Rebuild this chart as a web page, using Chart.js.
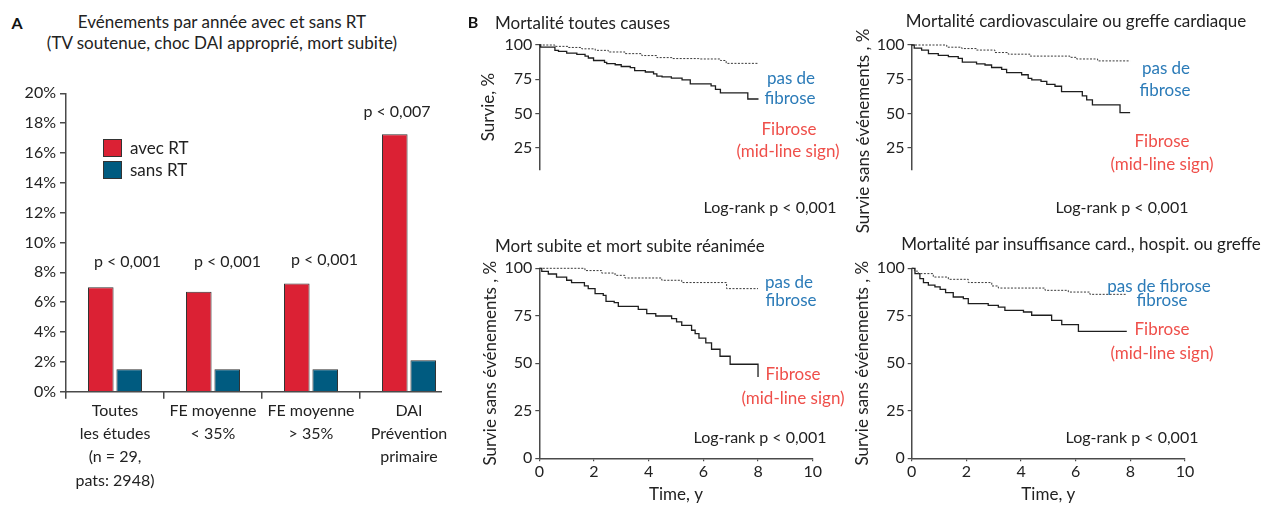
<!DOCTYPE html>
<html>
<head>
<meta charset="utf-8">
<script src="https://cdn.jsdelivr.net/npm/chart.js@4.4.1/dist/chart.umd.min.js"></script>
<style>
    body { margin: 0; width: 1271px; height: 506px; background: #fff; position: relative; overflow: hidden; font-family: Lato, sans-serif; color: #222; }
    canvas { position: absolute; }
    .t { position: absolute; white-space: nowrap; line-height: 1; transform: translate(-50%, -50%); }
    .sq { position: absolute; width: 17px; height: 16px; border: 1px solid #333; }
</style>
</head>
<body>
<canvas id="barChart" width="470" height="446" style="left:0;top:60px"></canvas>
<canvas id="kmAll" width="390" height="200" style="left:470px;top:30px"></canvas>
<canvas id="kmCardio" width="421" height="200" style="left:850px;top:30px"></canvas>
<canvas id="kmSudden" width="380" height="251" style="left:470px;top:255px"></canvas>
<canvas id="kmHF" width="421" height="251" style="left:850px;top:255px"></canvas>
<div class="sq" style="left:103px;top:139px;background:#DB2134"></div>
<div class="sq" style="left:103px;top:161px;background:#005B80"></div>

<script>
    // Panel A: events per year with / without RT
    const categories = [
        ['Toutes', 'les études', '(n = 29,', 'pats: 2948)'],
        ['FE moyenne', '< 35%'],
        ['FE moyenne', '> 35%'],
        ['DAI', 'Prévention', 'primaire']
    ];
    const avecRT = [7.0, 6.7, 7.25, 17.25];
    const sansRT = [1.5, 1.5, 1.5, 2.1];
    const pValues = ['p < 0,001', 'p < 0,001', 'p < 0,001', 'p < 0,007'];

    // Panel B: Kaplan-Meier curves (time in years, survival in %)
    const timeTicks = [0, 2, 4, 6, 8, 10];

    const allFibT = [0, 0.05, 0.57, 0.7, 1.0, 1.37, 1.67, 1.79, 1.98, 2.38, 2.46, 2.77, 2.99, 3.32, 3.48, 3.87, 4.17, 4.29, 4.48, 4.82, 5.21, 5.51, 6.27, 6.43, 6.61, 7.61, 8.0];
    const allFibS = [100, 98.5, 96.1, 95.4, 94.0, 93.1, 91.9, 90.5, 88.7, 87.3, 86.4, 85.6, 84.3, 83.5, 81.3, 80.3, 79.0, 77.3, 76.8, 75.9, 74.6, 71.7, 70.2, 67.6, 65.0, 60.6, 60.6];
    const allNoFibT = [0, 0.57, 1.06, 1.55, 2.04, 2.52, 3.13, 3.74, 4.29, 4.84, 5.82, 6.61, 6.82, 8.0];
    const allNoFibS = [100, 99.0, 98.2, 97.2, 96.1, 94.9, 93.7, 92.3, 90.8, 90.1, 89.8, 88.7, 86.6, 86.6];

    const cardioFibT = [0, 0.1, 0.37, 0.62, 0.98, 1.35, 1.71, 1.86, 2.38, 2.69, 2.93, 3.30, 3.48, 4.03, 4.27, 4.40, 4.74, 4.95, 5.25, 5.49, 6.25, 6.41, 6.62, 7.63, 8.0];
    const cardioFibS = [100, 97.7, 96.3, 93.7, 92.4, 91.5, 90.3, 87.5, 86.3, 85.4, 83.6, 82.2, 79.8, 78.3, 75.7, 74.5, 73.4, 71.3, 69.9, 66.0, 62.9, 59.9, 56.3, 50.7, 50.7];
    const cardioNoFibT = [0, 1.29, 1.84, 2.38, 3.05, 3.54, 4.34, 5.8, 6.04, 6.81, 8.0];
    const cardioNoFibS = [100, 98.4, 97.4, 96.3, 94.5, 93.3, 91.9, 91.0, 89.8, 88.4, 88.4];

    const suddenFibT = [0, 0.09, 0.33, 0.63, 1.0, 1.18, 1.65, 1.79, 2.04, 2.34, 2.44, 2.74, 2.89, 3.62, 3.93, 4.26, 4.84, 5.02, 5.21, 5.57, 5.70, 5.84, 6.09, 6.30, 6.61, 6.98, 8.0];
    const suddenFibS = [100, 98.4, 97.0, 95.4, 93.7, 92.5, 90.7, 89.3, 86.7, 85.8, 82.6, 81.9, 80.0, 78.4, 76.1, 74.9, 73.5, 71.8, 70.0, 67.4, 65.6, 63.3, 60.7, 57.4, 53.7, 49.5, 42.8];
    const suddenNoFibT = [0, 1.67, 2.28, 2.77, 3.13, 4.48, 5.21, 6.85, 8.0];
    const suddenNoFibS = [100, 98.8, 97.5, 96.3, 94.9, 93.7, 92.5, 89.3, 89.3];

    const hfFibT = [0, 0.12, 0.30, 0.43, 0.61, 0.85, 1.04, 1.24, 1.52, 1.89, 2.07, 2.80, 3.17, 3.41, 4.09, 4.39, 5.12, 5.49, 6.10, 7.87];
    const hfFibS = [100, 97.2, 94.6, 92.5, 91.1, 90.2, 88.9, 87.2, 84.9, 84.0, 81.4, 80.5, 79.6, 77.9, 77.0, 75.3, 72.6, 70.4, 66.8, 66.8];
    const hfNoFibT = [0, 0.1, 0.24, 0.79, 1.34, 2.07, 2.93, 3.17, 4.88, 5.73, 6.52, 7.87];
    const hfNoFibS = [100, 98.5, 97.2, 95.4, 94.2, 92.5, 90.7, 89.6, 88.4, 87.5, 86.3, 86.3];

    const AXIS = '#4a4a4a';
    const BLUE = '#2B7BB8';
    const RED = '#EF4F4A';

    // x axis line of the bar chart stops just after the last bar
    const axisLinePlugin = {
        id: 'axisLine',
        afterDatasetsDraw(chart) {
            const {ctx, chartArea} = chart;
            const meta = chart.getDatasetMeta(chart.data.datasets.length - 1);
            const last = meta.data[meta.data.length - 1];
            ctx.save();
            ctx.strokeStyle = AXIS;
            ctx.lineWidth = 1.5;
            ctx.beginPath();
            ctx.moveTo(chartArea.left, chartArea.bottom);
            ctx.lineTo(last.x + last.width / 2 + 6, chartArea.bottom);
            ctx.stroke();
            ctx.restore();
        }
    };

    new Chart(document.getElementById('barChart'), {
        type: 'bar',
        data: {
            labels: categories,
            datasets: [{
                label: 'avec RT',
                data: avecRT,
                backgroundColor: '#DB2134',
                borderColor: '#333',
                borderWidth: 1,
                categoryPercentage: 0.58,
                barPercentage: 0.9
            }, {
                label: 'sans RT',
                data: sansRT,
                backgroundColor: '#005B80',
                borderColor: '#333',
                borderWidth: 1,
                categoryPercentage: 0.58,
                barPercentage: 0.9
            }]
        },
        options: {
            responsive: false,
            animation: false,
            events: [],
            layout: { padding: { left: 0, top: 33.3, right: 12, bottom: 0 } },
            plugins: { legend: { display: false }, tooltip: { enabled: false } },
            scales: {
                x: {
                    grid: {
                        offset: true,
                        drawOnChartArea: false,
                        tickLength: 7,
                        lineWidth: 1.5,
                        color: ctx => ctx.type === 'tick' ? AXIS : 'transparent'
                    },
                    border: { display: false },
                    ticks: { color: '#222', font: { family: 'Lato', size: 16, lineHeight: 1.46 }, padding: 0, maxRotation: 0, autoSkip: false },
                    afterFit: s => { s.height = 114.3; }
                },
                y: {
                    min: 0,
                    max: 20,
                    ticks: { stepSize: 2, callback: v => v + '%', color: '#222', font: { family: 'Lato', size: 16 }, padding: 4 },
                    grid: { drawOnChartArea: false, tickLength: 6, color: AXIS, lineWidth: 1.5 },
                    border: { color: AXIS, width: 1.5 },
                    afterFit: s => { s.width = 66; }
                }
            }
        },
        plugins: [axisLinePlugin]
    });

    function points(ts, ss) {
        return ts.map((t, i) => ({ x: t, y: ss[i] }));
    }

    function kmChart(id, cfg) {
        const yTicks = cfg.showX ? [0, 25, 50, 75, 100] : [25, 50, 75, 100];
        return new Chart(document.getElementById(id), {
            type: 'line',
            data: {
                datasets: [{
                    data: points(cfg.noFibT, cfg.noFibS),
                    borderColor: '#3a3a3a',
                    borderWidth: 1,
                    borderDash: [2, 1.5],
                    stepped: 'before',
                    pointRadius: 0,
                    clip: false
                }, {
                    data: points(cfg.fibT, cfg.fibS),
                    borderColor: '#1e1e1e',
                    borderWidth: 1.3,
                    stepped: 'before',
                    pointRadius: 0,
                    clip: false
                }]
            },
            options: {
                responsive: false,
                animation: false,
                events: [],
                layout: { padding: { left: 0, top: cfg.padTop, right: cfg.padRight, bottom: cfg.padBottom } },
                plugins: { legend: { display: false }, tooltip: { enabled: false } },
                scales: {
                    x: {
                        type: 'linear',
                        min: 0,
                        max: 10,
                        display: cfg.showX,
                        afterBuildTicks: s => { s.ticks = timeTicks.map(v => ({ value: v })); },
                        ticks: { color: '#222', font: { family: 'Lato', size: 16 }, padding: 1 },
                        grid: { drawOnChartArea: false, tickLength: 3, color: AXIS, lineWidth: 1.2 },
                        border: { color: AXIS, width: 1.5 },
                        title: { display: true, text: 'Time, y', color: '#222', font: { family: 'Lato', size: 17 }, padding: { top: 0, bottom: 1 } },
                        afterFit: s => { s.height = 47.7; }
                    },
                    y: {
                        min: cfg.yMin,
                        max: 100,
                        afterBuildTicks: s => { s.ticks = yTicks.map(v => ({ value: v })); },
                        ticks: { color: '#222', font: { family: 'Lato', size: 16 }, padding: 3 },
                        grid: { drawOnChartArea: false, tickLength: 4, color: AXIS, lineWidth: 1.2 },
                        border: { color: AXIS, width: 1.5 },
                        title: { display: !!cfg.yTitle, text: cfg.yTitle || '', color: '#222', font: { family: 'Lato', size: 17 }, padding: { top: cfg.titlePad, bottom: 0 } },
                        afterFit: s => { s.width = cfg.yWidth; }
                    }
                }
            }
        });
    }

    kmChart('kmAll', {
        fibT: allFibT, fibS: allFibS, noFibT: allNoFibT, noFibS: allNoFibS,
        showX: false, yMin: 9.3, yWidth: 69.3, padTop: 15, padRight: 46.7, padBottom: 13,
        yTitle: 'Survie, %', titlePad: 8
    });
    // its axis title is longer than the axis, so it is set as page text below
    kmChart('kmCardio', {
        fibT: cardioFibT, fibS: cardioFibS, noFibT: cardioNoFibT, noFibS: cardioNoFibS,
        showX: false, yMin: 9.3, yWidth: 61.5, padTop: 15, padRight: 86.2, padBottom: 13,
        yTitle: null, titlePad: 2
    });
    kmChart('kmSudden', {
        fibT: suddenFibT, fibS: suddenFibS, noFibT: suddenNoFibT, noFibS: suddenNoFibS,
        showX: true, yMin: 0, yWidth: 69.3, padTop: 13.3, padRight: 37.3, padBottom: 0,
        yTitle: 'Survie sans événements , %', titlePad: 10
    });
    kmChart('kmHF', {
        fibT: hfFibT, fibS: hfFibS, noFibT: hfNoFibT, noFibS: hfNoFibS,
        showX: true, yMin: 0, yWidth: 61.7, padTop: 13.3, padRight: 86, padBottom: 0,
        yTitle: 'Survie sans événements , %', titlePad: 2
    });

    // text annotations: [text, centre x, centre y, colour, size, weight, anchor]
    const notes = [
        ['A', 17, 23, '#111', 16, 700],
        ['Evénements par année avec et sans RT', 222, 21, '#222', 17],
        ['(TV soutenue, choc DAI approprié, mort subite)', 222, 42, '#222', 17],
        [pValues[0], 127.5, 261, '#222', 16],
        [pValues[1], 227.5, 261, '#222', 16],
        [pValues[2], 324.5, 259, '#222', 16],
        [pValues[3], 397, 111, '#222', 16],
        ['avec RT', 130, 147, '#222', 17, 400, 'left'],
        ['sans RT', 130, 169, '#222', 17, 400, 'left'],

        ['B', 473, 22, '#111', 16, 700],
        ['Mortalité toutes causes', 495, 22, '#222', 17, 400, 'left'],
        ['pas de', 791, 77, BLUE, 17],
        ['fibrose', 790, 97, BLUE, 17],
        ['Fibrose', 789, 128, RED, 17],
        ['(mid-line sign)', 788, 150, RED, 17],
        ['Log-rank p < 0,001', 770, 207, '#222', 16],

        ['Mortalité cardiovasculaire ou greffe cardiaque', 1076, 20, '#222', 17],
        ['Survie sans événements , %', 862, 131, '#222', 17, 400, 'rot'],
        ['pas de', 1166, 67, BLUE, 17],
        ['fibrose', 1165, 89, BLUE, 17],
        ['Fibrose', 1162, 140, RED, 17],
        ['(mid-line sign)', 1162, 163, RED, 17],
        ['Log-rank p < 0,001', 1122, 207, '#222', 16],

        ['Mort subite et mort subite réanimée', 495, 245, '#222', 17, 400, 'left'],
        ['pas de', 789, 281, BLUE, 17],
        ['fibrose', 791, 299, BLUE, 17],
        ['Fibrose', 793, 373, RED, 17],
        ['(mid-line sign)', 793, 397, RED, 17],
        ['Log-rank p < 0,001', 760, 437, '#222', 16],

        ['Mortalité par insuffisance card., hospit. ou greffe', 1081, 243, '#222', 17],
        ['pas de fibrose', 1159, 285, BLUE, 17],
        ['fibrose', 1162, 299, BLUE, 17],
        ['Fibrose', 1162, 328, RED, 17],
        ['(mid-line sign)', 1162, 352, RED, 17],
        ['Log-rank p < 0,001', 1132, 437, '#222', 16]
    ];

    notes.forEach(([text, x, y, color, size, weight, anchor]) => {
        const d = document.createElement('div');
        d.className = 't';
        d.textContent = text;
        d.style.left = x + 'px';
        d.style.top = y + 'px';
        d.style.color = color;
        d.style.fontSize = size + 'px';
        d.style.fontWeight = weight || 400;
        if (anchor === 'left') d.style.transform = 'translate(0, -50%)';
        if (anchor === 'rot') d.style.transform = 'translate(-50%, -50%) rotate(-90deg)';
        document.body.appendChild(d);
    });
</script>
</body>
</html>
